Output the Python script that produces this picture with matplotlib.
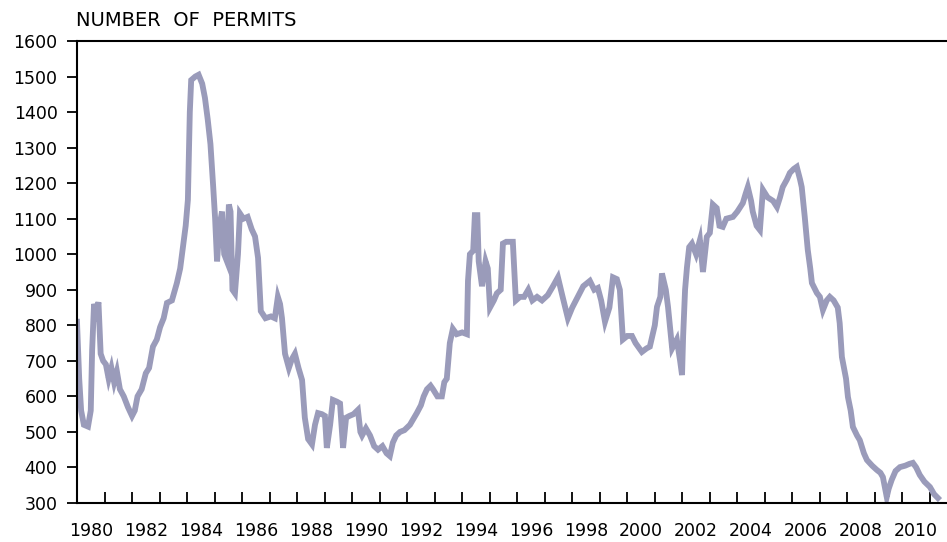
import matplotlib
matplotlib.use("Agg")
import matplotlib.pyplot as plt

# building permits (decimal year, number of permits)
years = [
    1980.00, 1980.08, 1980.15, 1980.25, 1980.40, 1980.50, 1980.55, 1980.62, 1980.70, 1980.78,
    1980.86, 1980.95, 1981.05, 1981.15, 1981.25, 1981.35, 1981.45, 1981.56, 1981.70, 1981.85,
    1982.00, 1982.10, 1982.20, 1982.35, 1982.50, 1982.62, 1982.76, 1982.90, 1983.02, 1983.15,
    1983.27, 1983.45, 1983.63, 1983.75, 1983.85, 1983.95, 1984.03, 1984.10, 1984.15, 1984.30,
    1984.42, 1984.55, 1984.65, 1984.75, 1984.85, 1984.95, 1985.02, 1985.09, 1985.18, 1985.27,
    1985.35, 1985.45, 1985.52, 1985.58, 1985.65, 1985.74, 1985.85, 1985.92, 1986.05, 1986.20,
    1986.35, 1986.47, 1986.58, 1986.68, 1986.85, 1987.05, 1987.19, 1987.30, 1987.38, 1987.45,
    1987.56, 1987.70, 1987.81, 1987.92, 1988.05, 1988.18, 1988.28, 1988.40, 1988.54, 1988.65,
    1988.76, 1988.90, 1989.01, 1989.08, 1989.20, 1989.30, 1989.45, 1989.56, 1989.67, 1989.78,
    1989.90, 1990.05, 1990.21, 1990.30, 1990.36, 1990.50, 1990.65, 1990.80, 1990.94, 1991.10,
    1991.25, 1991.37, 1991.48, 1991.60, 1991.74, 1991.90, 1992.10, 1992.25, 1992.35, 1992.50,
    1992.60, 1992.72, 1992.85, 1992.94, 1993.10, 1993.26, 1993.35, 1993.44, 1993.55, 1993.66,
    1993.80, 1994.00, 1994.17, 1994.21, 1994.28, 1994.40, 1994.46, 1994.55, 1994.60, 1994.72,
    1994.85, 1994.93, 1995.01, 1995.15, 1995.26, 1995.40, 1995.48, 1995.60, 1995.84, 1995.95,
    1996.10, 1996.25, 1996.40, 1996.55, 1996.72, 1996.90, 1997.11, 1997.30, 1997.48, 1997.65,
    1997.84, 1998.00, 1998.20, 1998.40, 1998.64, 1998.80, 1998.93, 1999.05, 1999.19, 1999.35,
    1999.48, 1999.62, 1999.73, 1999.84, 2000.00, 2000.17, 2000.30, 2000.53, 2000.70, 2000.82,
    2001.00, 2001.08, 2001.20, 2001.26, 2001.40, 2001.48, 2001.63, 2001.80, 2001.92, 2001.99,
    2002.03, 2002.10, 2002.17, 2002.25, 2002.35, 2002.50, 2002.64, 2002.75, 2002.89, 2003.00,
    2003.11, 2003.25, 2003.35, 2003.47, 2003.60, 2003.84, 2004.00, 2004.20, 2004.30, 2004.38,
    2004.50, 2004.56, 2004.70, 2004.82, 2004.93, 2005.10, 2005.30, 2005.44, 2005.55, 2005.65,
    2005.80, 2005.91, 2006.05, 2006.16, 2006.28, 2006.34, 2006.45, 2006.56, 2006.65, 2006.71,
    2006.89, 2007.00, 2007.11, 2007.25, 2007.36, 2007.50, 2007.65, 2007.72, 2007.80, 2007.95,
    2008.02, 2008.12, 2008.20, 2008.35, 2008.45, 2008.60, 2008.71, 2008.90, 2009.07, 2009.20,
    2009.29, 2009.43, 2009.50, 2009.61, 2009.75, 2009.91, 2010.10, 2010.25, 2010.38, 2010.50,
    2010.63, 2010.80, 2011.00, 2011.15, 2011.29,
]
permits = [
    810, 650, 560, 520, 515, 560, 730, 860, 840, 865,
    720, 700, 690, 650, 680, 640, 670, 620, 600, 570,
    545, 560, 600, 620, 665, 680, 740, 760, 795, 820,
    863, 870, 919, 960, 1020, 1080, 1153, 1400, 1490, 1500,
    1505, 1480, 1440, 1380, 1310, 1190, 1100, 980, 1080, 1120,
    1000, 980, 1140, 1120, 900, 890, 1000, 1115, 1100, 1105,
    1070, 1050, 990, 840, 820, 825, 820, 880, 860, 820,
    720, 680, 705, 720, 680, 646, 540, 480, 465, 520,
    553, 550, 545, 455, 520, 590, 585, 580, 455, 540,
    545, 550, 562, 500, 490, 510, 490, 460, 450, 460,
    440, 432, 470, 490, 500, 505, 520, 540, 553, 575,
    600, 620, 630, 620, 600, 600, 640, 650, 750, 790,
    775, 780, 775, 925, 1000, 1010, 1110, 1110, 980, 910,
    980, 960, 850, 870, 890, 900, 1030, 1035, 1035, 870,
    880, 880, 900, 870, 880, 870, 885, 910, 935, 880,
    820, 850, 880, 910, 925, 900, 905, 870, 810, 850,
    935, 930, 900, 760, 770, 770, 750, 725, 735, 740,
    800, 852, 880, 946, 900, 852, 735, 760, 700, 660,
    770, 900, 964, 1020, 1030, 1000, 1040, 950, 1049, 1060,
    1140, 1130, 1080, 1077, 1100, 1105, 1120, 1144, 1170, 1189,
    1150, 1120, 1080, 1068, 1181, 1160, 1150, 1133, 1160, 1189,
    1210, 1229, 1240, 1246, 1210, 1189, 1105, 1012, 960, 919,
    891, 880, 843, 870, 880, 870, 850, 806, 711, 650,
    598, 560, 514, 490, 477, 440, 421, 405, 393, 385,
    373, 317, 340, 365, 390, 401, 405, 410, 413, 400,
    379, 360, 345, 325, 314,
]

year_ticks = list(range(1980, 2012))
label_years = list(range(1980, 2011, 2))
value_ticks = list(range(300, 1601, 100))

plt.rcParams['font.family'] = ['DejaVu Sans']

fig = plt.figure(figsize=(9.47, 5.42), dpi=100)
ax = fig.add_axes([77 / 947, 1 - 503 / 542, 1 - 77 / 947, (503 - 41) / 542])

ax.plot(years, permits, color='#9a9bba', linewidth=4.2, solid_joinstyle='miter')

ax.set_xlim(1980, 2011.62)
ax.set_ylim(300, 1600)

for side in ['left', 'top', 'bottom']:
    ax.spines[side].set_linewidth(1.5)
ax.spines['right'].set_visible(False)

# year ticks every year, labels centred in the year, every other year
ax.set_xticks(year_ticks)
ax.set_xticklabels([])
ax.set_xticks([y + 0.5 for y in label_years], minor=True)
ax.set_xticklabels([str(y) for y in label_years], minor=True, fontsize=12.5)
ax.tick_params(axis='x', which='major', direction='in', length=8, width=1.3)
ax.tick_params(axis='x', which='minor', length=0, pad=14)

ax.set_yticks(value_ticks)
ax.set_yticklabels([str(v) for v in value_ticks], fontsize=12.5)
ax.tick_params(axis='y', direction='out', length=7, width=1.3, pad=7)

fig.text(76 / 947, 1 - 26 / 542, 'NUMBER  OF  PERMITS', fontsize=14, ha='left', va='baseline')

fig.savefig('out.png', dpi=100)
